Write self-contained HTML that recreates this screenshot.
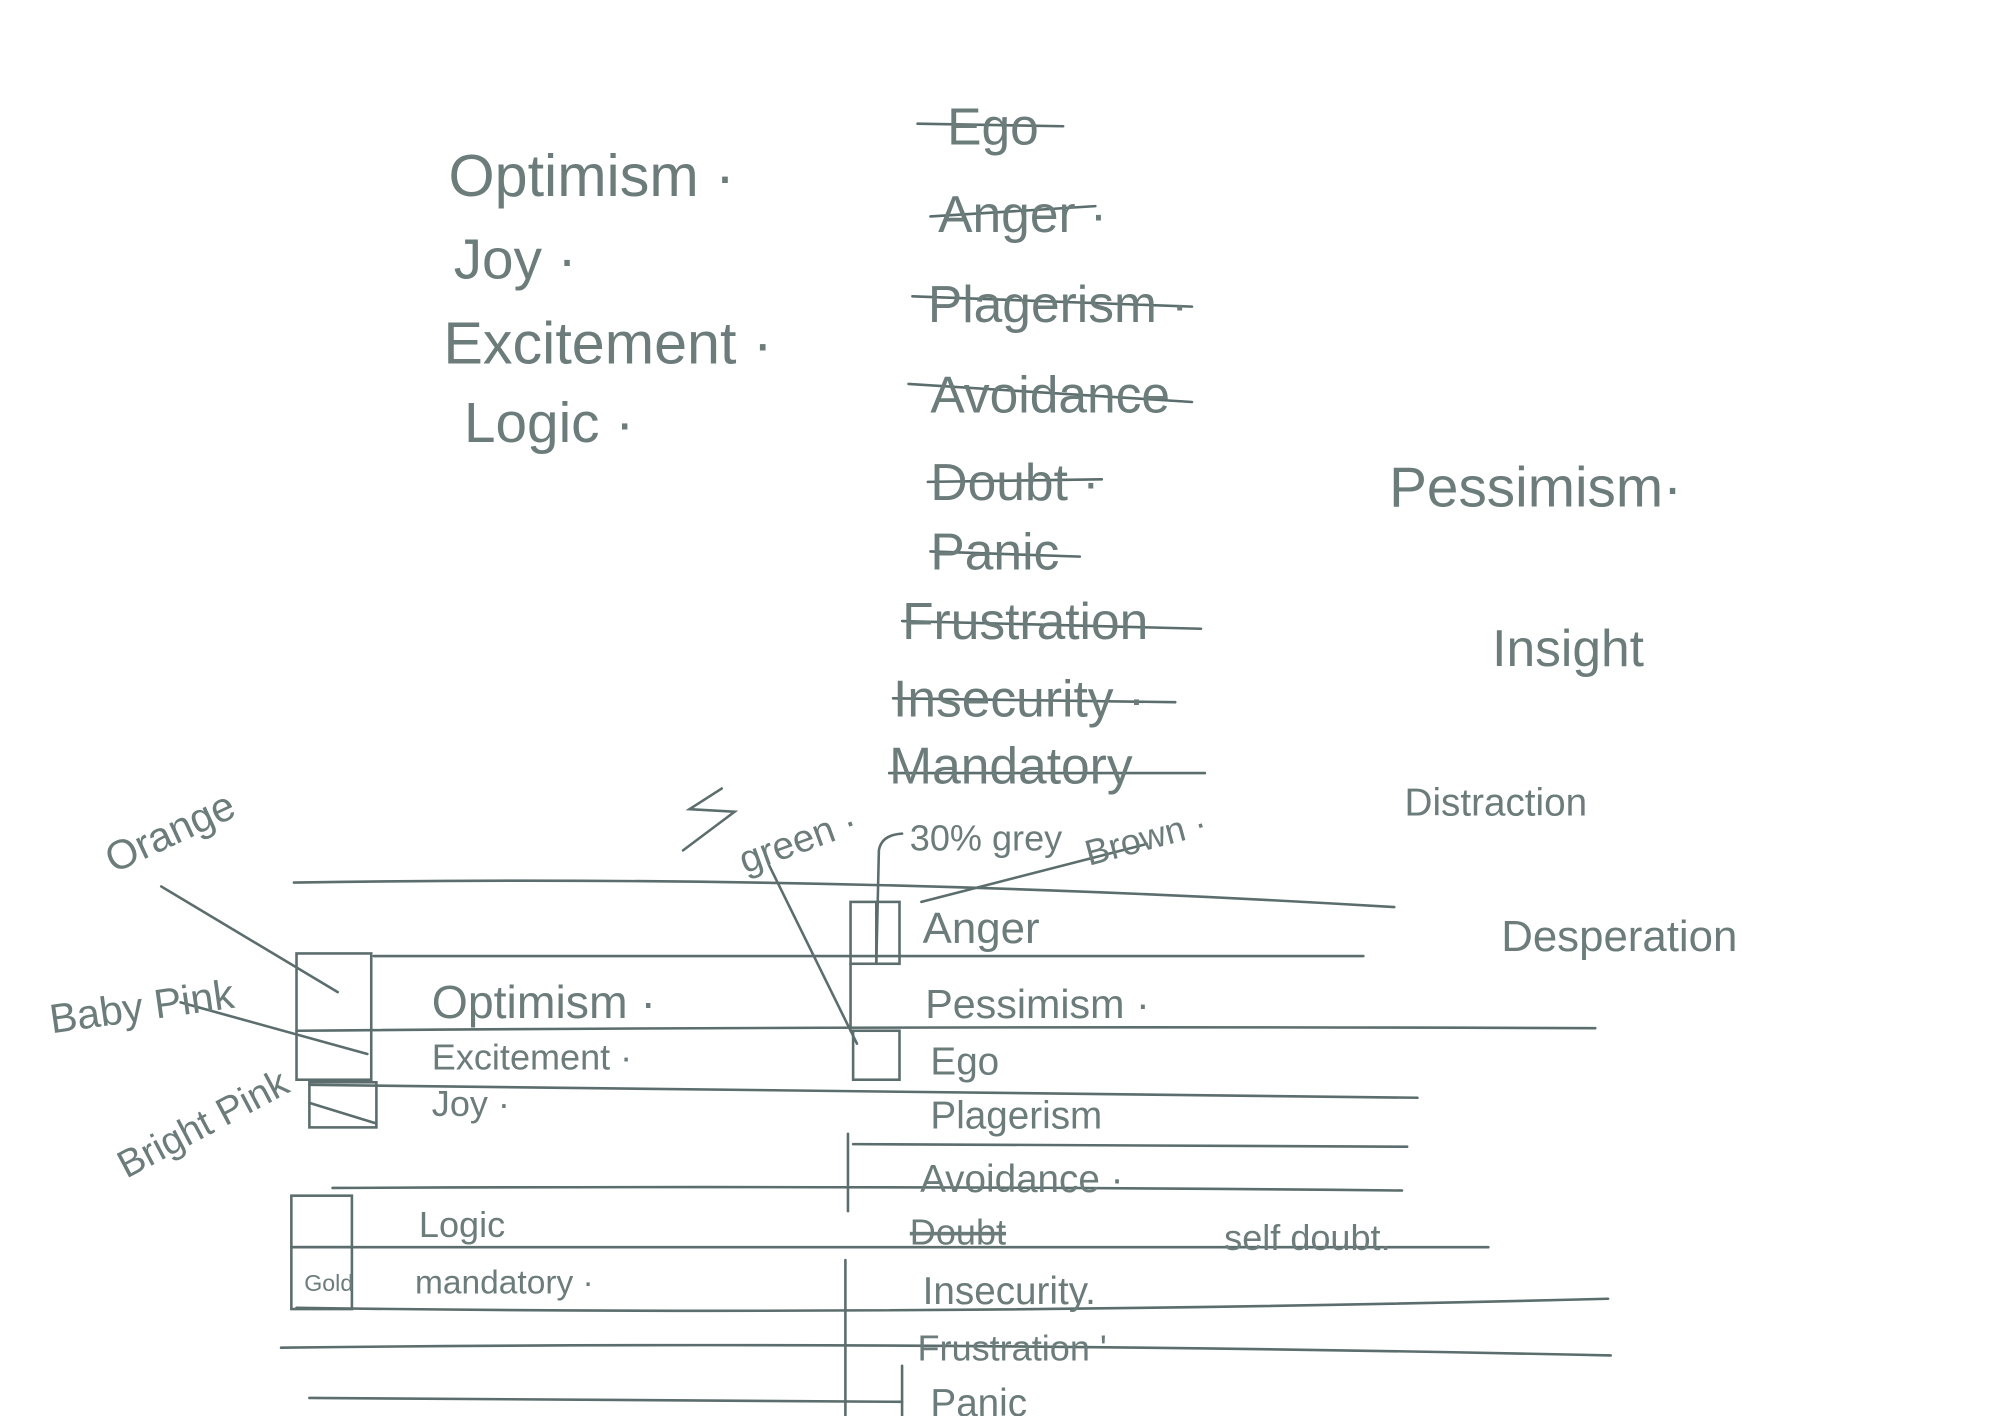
<!DOCTYPE html>
<html><head><meta charset="utf-8"><style>
html,body{margin:0;padding:0;background:#fff;}
svg{display:block;}
text{font-family:"Liberation Sans",sans-serif;fill:#6b7c7b;}
</style></head><body>
<svg width="2000" height="1416" viewBox="0 0 1552 1099" xmlns="http://www.w3.org/2000/svg">
<g stroke="#5b6d6c" stroke-width="2" fill="none" stroke-linecap="round">
<line x1="712" y1="96" x2="825" y2="98"/>
<line x1="722" y1="168" x2="850" y2="160"/>
<line x1="708" y1="230" x2="925" y2="238"/>
<line x1="705" y1="298" x2="925" y2="312"/>
<line x1="720" y1="374" x2="855" y2="372"/>
<line x1="722" y1="428" x2="838" y2="432"/>
<line x1="700" y1="482" x2="932" y2="488"/>
<line x1="693" y1="542" x2="912" y2="545"/>
<line x1="690" y1="600" x2="935" y2="600"/>
<path d="M228 685 Q650 678 1082 704"/>
<line x1="290" y1="742" x2="1058" y2="742"/>
<path d="M230 800 Q700 796 1238 798"/>
<path d="M240 842 Q700 848 1100 852"/>
<line x1="662" y1="888" x2="1092" y2="890"/>
<path d="M258 922 Q700 920 1088 924"/>
<path d="M228 968 Q700 966 1155 968"/>
<path d="M230 1015 Q700 1022 1248 1008"/>
<path d="M218 1046 Q700 1040 1250 1052"/>
<line x1="240" y1="1085" x2="700" y2="1088"/>
<rect x="230" y="740" width="58" height="98"/>
<rect x="240" y="840" width="52" height="35"/>
<rect x="226" y="928" width="47" height="88"/>
<line x1="226" y1="968" x2="273" y2="968"/>
<rect x="660" y="700" width="38" height="48"/>
<rect x="662" y="800" width="36" height="38"/>
<line x1="680" y1="700" x2="680" y2="748"/>
<line x1="660" y1="748" x2="660" y2="800"/>
<line x1="658" y1="880" x2="658" y2="940"/>
<line x1="656" y1="978" x2="656" y2="1099"/>
<line x1="700" y1="1060" x2="700" y2="1099"/>
<line x1="125" y1="688" x2="262" y2="770"/>
<line x1="140" y1="778" x2="285" y2="818"/>
<line x1="240" y1="856" x2="292" y2="872"/>
<line x1="597" y1="672" x2="665" y2="810"/>
<path d="M700 647 Q684 648 682 660 L680 748"/>
<line x1="715" y1="700" x2="890" y2="655"/>
<path d="M560 612 L535 628 L570 630 L530 660"/>
</g>
<text x="348" y="152" font-size="46">Optimism ·</text>
<text x="352" y="216" font-size="44">Joy ·</text>
<text x="344" y="282" font-size="46">Excitement ·</text>
<text x="360" y="343" font-size="44">Logic ·</text>
<g font-size="40">
<text x="735" y="112">Ego</text>
<text x="728" y="180">Anger ·</text>
<text x="720" y="250">Plagerism ·</text>
<text x="722" y="320">Avoidance</text>
<text x="722" y="388">Doubt ·</text>
<text x="722" y="442">Panic</text>
<text x="700" y="496">Frustration</text>
<text x="693" y="556">Insecurity ·</text>
<text x="690" y="608">Mandatory</text>
</g>
<text x="1078" y="393" font-size="44">Pessimism·</text>
<text x="1158" y="517" font-size="40">Insight</text>
<text x="1090" y="633" font-size="30">Distraction</text>
<text x="1165" y="738" font-size="34">Desperation</text>
<text x="335" y="790" font-size="36">Optimism ·</text>
<text x="335" y="830" font-size="28">Excitement ·</text>
<text x="335" y="866" font-size="28">Joy ·</text>
<text x="325" y="960" font-size="28">Logic</text>
<text x="322" y="1004" font-size="26">mandatory ·</text>
<text x="236" y="1002" font-size="18">Gold</text>
<text x="716" y="732" font-size="34">Anger</text>
<text x="718" y="790" font-size="32">Pessimism ·</text>
<text x="722" y="834" font-size="30">Ego</text>
<text x="722" y="876" font-size="30">Plagerism</text>
<text x="714" y="925" font-size="30">Avoidance ·</text>
<text x="706" y="966" font-size="28" text-decoration="line-through">Doubt</text>
<text x="950" y="970" font-size="28">self doubt.</text>
<text x="716" y="1012" font-size="30">Insecurity.</text>
<text x="712" y="1056" font-size="28">Frustration '</text>
<text x="722" y="1099" font-size="30">Panic</text>
<text x="88" y="678" font-size="32" transform="rotate(-25 88 678)">Orange</text>
<text x="40" y="802" font-size="32" transform="rotate(-8 40 802)">Baby Pink</text>
<text x="98" y="915" font-size="30" transform="rotate(-28 98 915)">Bright Pink</text>
<text x="578" y="678" font-size="30" transform="rotate(-20 578 678)">green ·</text>
<text x="706" y="660" font-size="28">30% grey</text>
<text x="845" y="672" font-size="28" transform="rotate(-15 845 672)">Brown ·</text>
</svg>
</body></html>
